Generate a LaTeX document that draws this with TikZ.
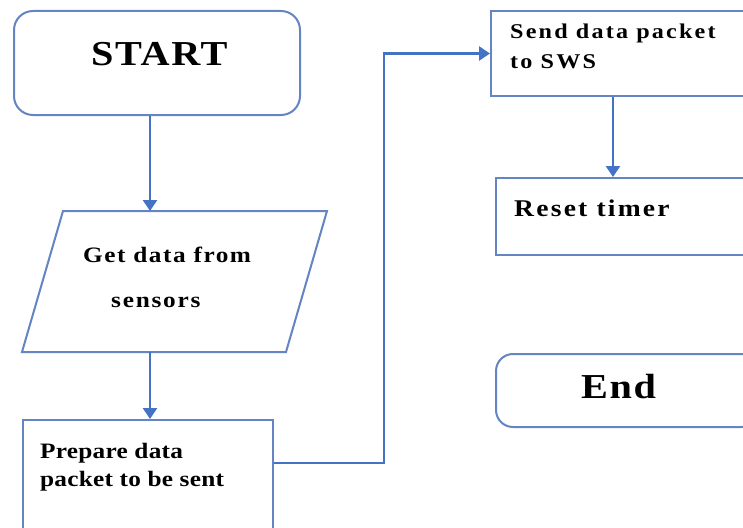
\documentclass[tikz,border=0pt]{standalone}
\usepackage{fontspec}
\setmainfont{Liberation Serif}
\usetikzlibrary{arrows.meta}
\definecolor{linkblue}{RGB}{68,114,196}
\definecolor{edgeblue}{RGB}{100,132,194}
% bold, widened and slightly letter-spaced face used for all labels
\newcommand\flowfont[2]{\fontsize{#1}{#1}\selectfont\bfseries\addfontfeature{LetterSpace=#2}}
\newcommand\widetext[1]{\scalebox{1.15}[1]{#1}}
\begin{document}
\begin{tikzpicture}[x=1pt,y=-1pt,
  box/.style={draw=edgeblue,line width=2pt,fill=white,inner sep=0pt,anchor=north west},
  roundbox/.style={box,rounded corners=19pt},
  edgeline/.style={draw=edgeblue,line width=2pt,line join=miter},
  arr/.style={draw=linkblue,line width=2.6pt,-{Triangle[width=14pt,length=11pt]}},
  txt/.style={anchor=base west,inner sep=0pt,text=black}
]
\useasboundingbox (0,0) rectangle (743,527);
\clip (0,0) rectangle (743,527);
\fill[white] (0,0) rectangle (743,527);

% boxes
\node[roundbox,minimum width=286pt,minimum height=104pt] (start) at (13,10) {};
\draw[edgeline] (63,211) -- (327,211) -- (286,352) -- (22,352) -- cycle;
\coordinate (gtop) at (150,211);
\coordinate (gbot) at (150,352);
\node[box,minimum width=250pt,minimum height=125pt] (prep) at (22,419) {};
\node[box,minimum width=262pt,minimum height=85pt] (send) at (490,10) {};
\node[box,minimum width=257pt,minimum height=77pt] (reset) at (495,177) {};
\node[roundbox,rounded corners=17pt,minimum width=262pt,minimum height=73pt] (end) at (495,353) {};

% labels
\node[txt,font=\flowfont{35}{4}] (tstart) at (91,65) {\widetext{START}};
\node[txt,font=\flowfont{22}{6}] (tget1) at (83,262) {\widetext{Get data from}};
\node[txt,font=\flowfont{22}{7}] (tget2) at (111,307) {\widetext{sensors}};
\node[txt,font=\flowfont{22}{1}] (tprep1) at (40,458) {\widetext{Prepare data}};
\node[txt,font=\flowfont{22}{1}] (tprep2) at (40,486) {\widetext{packet to be sent}};
\node[txt,font=\flowfont{21}{9}] (tsend1) at (510,39) {\widetext{Send data packet}};
\node[txt,font=\flowfont{21}{9}] (tsend2) at (510,68) {\widetext{to SWS}};
\node[txt,font=\flowfont{24}{8}] (treset) at (514,216) {\widetext{Reset timer}};
\node[txt,font=\flowfont{35}{4}] (tend) at (581,398) {\widetext{End}};

% connectors
\coordinate (pout) at (272,463);
\coordinate (sx) at (613,0);
\draw[arr] (start.south -| gtop) -- (gtop);
\draw[arr] (gbot) -- (gbot |- prep.north);
\draw[arr] (prep.east |- pout) -- ++(110,0) |- (send.west);
\draw[arr] (send.south -| sx) -- (reset.north -| sx);
\end{tikzpicture}
\end{document}
